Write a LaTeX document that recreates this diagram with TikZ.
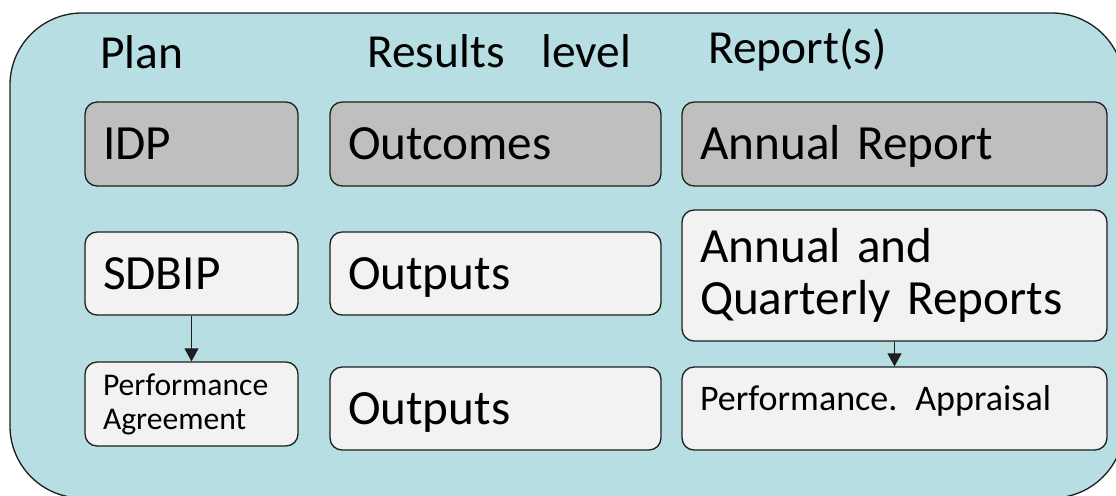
\documentclass[tikz,border=0pt]{standalone}
\usepackage{fontspec}
\setmainfont{Carlito}
\usetikzlibrary{positioning,arrows.meta}
\definecolor{panelblue}{RGB}{183,222,226}
\definecolor{darkgrey}{RGB}{191,191,191}
\definecolor{lightgrey}{RGB}{242,242,242}
\definecolor{boxline}{RGB}{30,30,30}

\begin{document}
\begin{tikzpicture}[x=0.02cm, y=-0.02cm, >={Triangle[length=0.26cm,width=0.28cm]}]
        \tikzstyle{box} = [rectangle, rounded corners=0.24cm, draw=boxline, line width=0.75pt, inner xsep=0.36cm, inner ysep=0pt, align=left, text height=0.62cm, text depth=0pt, font=\fontsize{28}{30}\selectfont]
        \tikzstyle{dark} = [box, fill=darkgrey]
        \tikzstyle{light} = [box, fill=lightgrey]
        \tikzstyle{head} = [anchor=base west, inner sep=0pt, font=\fontsize{27}{30}\selectfont]
        \tikzstyle{arrow} = [->, line width=0.7pt, draw=boxline]

        \clip (0,0) rectangle (1116,495);
        \draw [fill=panelblue, draw=boxline, line width=0.75pt, rounded corners=1.44cm] (10,13) rectangle (1124,498);

        \node (plan) [head] at (100,68) {Plan};
        \node (results) [head] at (367,67) {Results\hspace{0.74cm}level};
        \node (reports) [head] at (708,63) {Report(s)};

        \node (idp) [dark, text width=3.54cm, minimum height=1.68cm] at (191.5,144) {IDP};
        \node (sdbip) [light, text width=3.54cm, minimum height=1.66cm] at (191.5,273.5) {SDBIP};
        \node (agree) [light, text width=3.54cm, minimum height=1.68cm, text height=, text depth=, font=\fontsize{18}{19.3}\selectfont] at (191.5,404) {Performance\\Agreement};

        \node (outcomes) [dark, text width=5.9cm, minimum height=1.68cm] at (495.5,144) {Outcomes};
        \node (outputs) [light, text width=5.9cm, minimum height=1.66cm] at (495.5,273.5) {Outputs};
        \node (outputs2) [light, text width=5.9cm, minimum height=1.66cm] at (495.5,408.5) {Outputs};

        \node (annual) [dark, text width=7.78cm, minimum height=1.68cm] at (894.5,144) {Annual Report};
        \node (quarterly) [light, text width=7.78cm, minimum height=2.62cm, text height=, text depth=, font=\fontsize{28}{30}\selectfont] at (894.5,275.5) {Annual and\\Quarterly Reports};
        \node (appraisal) [light, text width=7.78cm, minimum height=1.66cm, text height=0.5cm, text depth=0.44cm, font=\fontsize{20.5}{22}\selectfont] at (894.5,408.5) {Performance. Appraisal};

        \draw [arrow] (sdbip) -- (agree);
        \draw [arrow] (quarterly) -- (appraisal);
    \end{tikzpicture}
\end{document}
